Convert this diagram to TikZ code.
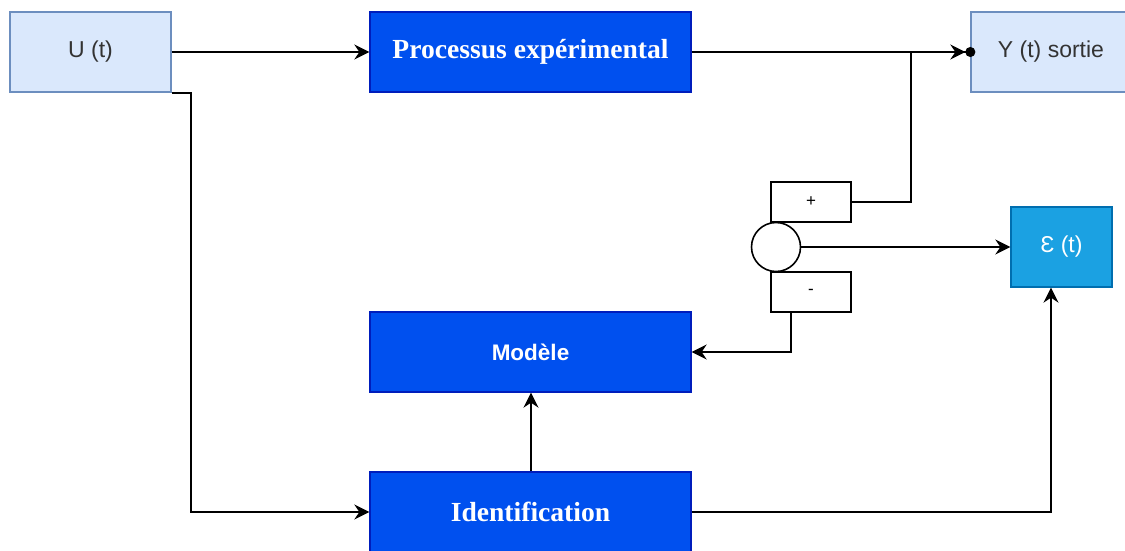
\documentclass[tikz,border=0pt]{standalone}
\usepackage{fontspec}
\setmainfont{Liberation Serif}
\setsansfont{Liberation Sans}
\usetikzlibrary{arrows.meta}
\definecolor{lightfill}{HTML}{DAE8FC}
\definecolor{lightline}{HTML}{6C8EBF}
\definecolor{bluefill}{HTML}{0050EF}
\definecolor{blueline}{HTML}{001DBC}
\definecolor{cyanfill}{HTML}{1BA1E2}
\definecolor{cyanline}{HTML}{006EAF}
\definecolor{txtgrey}{HTML}{333333}
\begin{document}
\begin{tikzpicture}[x=1pt,y=-1pt,
  lightbox/.style={draw=lightline, fill=lightfill, line width=1.3pt, minimum width=161pt,
    minimum height=80pt, inner sep=0pt, text=txtgrey, font=\sffamily\fontsize{23}{26}\selectfont},
  bluebox/.style={draw=blueline, fill=bluefill, line width=1.3pt, minimum width=321pt,
    minimum height=80pt, inner sep=0pt, text=white},
  serifbig/.style={font=\rmfamily\bfseries\fontsize{27.6}{30}\selectfont},
  sansbold/.style={font=\sffamily\bfseries\fontsize{22.5}{26}\selectfont},
  cyanbox/.style={draw=cyanline, fill=cyanfill, line width=1.3pt, minimum width=101pt,
    minimum height=80pt, inner sep=0pt, text=white, font=\sffamily\fontsize{23}{26}\selectfont},
  signbox/.style={draw=black, fill=white, line width=1.6pt, minimum width=80pt,
    minimum height=40pt, inner sep=0pt, font=\sffamily\fontsize{17}{19}\selectfont},
  sumcirc/.style={circle, draw=black, fill=white, line width=1.6pt, minimum size=49pt, inner sep=0pt},
  conn/.style={draw=black, line width=1.8pt},
  arr/.style={-{Stealth[length=15pt,width=15pt,inset=5pt]}}
]
\useasboundingbox (0,0) rectangle (1125,550);
\clip (0,0) rectangle (1125,550);

\node[lightbox] (U) at (90.5,52) {U (t)};
\node[bluebox, serifbig] (proc) at (530.5,52) {Processus expérimental};
\node[lightbox, minimum width=160pt] (Y) at (1051,52) {Y (t) sortie};
\node[signbox] (plus) at (811,202) {+};
\node[sumcirc] (sum) at (776,247) {};
\node[signbox] (minus) at (811,292) {-};
\node[cyanbox] (eps) at (1061.5,247) {Ɛ (t)};
\node[bluebox, sansbold] (model) at (530.5,352) {Modèle};
\node[bluebox, serifbig] (ident) at (530.5,512) {Identification};

\coordinate (jn) at (911,52);

\draw[conn, arr] (U.east) -- (proc.west);
\draw[conn, -{Stealth[length=15pt,width=15pt,inset=5pt] Circle[length=10pt]}, shorten >=-5pt] (proc.east) -- (Y.west);
\draw[conn] (plus.east) -| (jn);
\draw[conn, arr] (sum.east) -- (eps.west);
\draw[conn, arr] ([xshift=-20pt]minus.south) |- (model.east);
\draw[conn, arr] ([xshift=0.5pt]ident.north) -- ([xshift=0.5pt]model.south);
\draw[conn, arr] (ident.east) -| ([xshift=-10.5pt]eps.south);
\draw[conn, arr] (U.south east) -- ++(19,0) |- (ident.west);
\end{tikzpicture}
\end{document}
